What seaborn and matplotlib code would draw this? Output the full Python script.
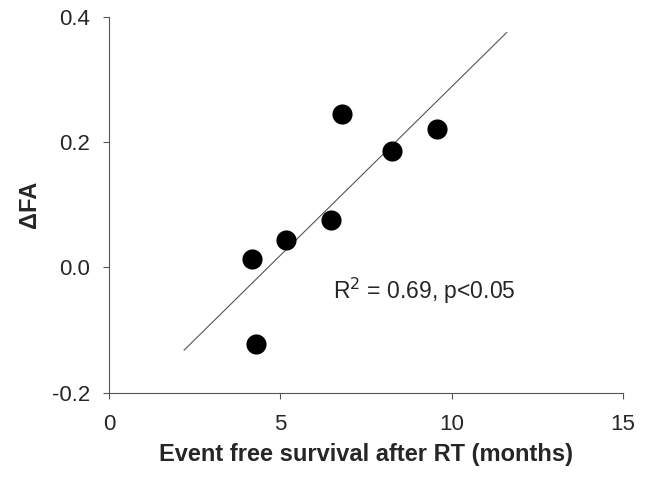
import numpy as np
import pandas as pd
import seaborn as sns
import matplotlib.pyplot as plt

# data
survival = [4.18, 4.29, 5.16, 6.47, 6.79, 8.27, 9.58]
delta_fa = [0.013, -0.123, 0.043, 0.076, 0.244, 0.185, 0.220]
fit_range = [2.19, 11.61]
x_ticks = [0, 5, 10, 15]
y_ticks = [-0.2, 0.0, 0.2, 0.4]

df = pd.DataFrame({"survival": survival, "dfa": delta_fa})

sns.set_style("ticks")
plt.rcParams["font.family"] = ["Liberation Sans", "DejaVu Sans"]

fig = plt.figure(figsize=(6.46, 4.82), dpi=100)
ax = fig.add_axes([0.1687, 0.1853, 0.7957, 0.7801])

# regression line over the drawn range
slope, icpt = np.polyfit(survival, delta_fa, 1)
fit_x = np.array(fit_range)
sns.lineplot(x=fit_x, y=slope * fit_x + icpt, color="#555555", linewidth=0.8, ax=ax)

sns.scatterplot(data=df, x="survival", y="dfa", color="black", s=210,
                edgecolor="black", linewidth=0, ax=ax, zorder=3)

ax.text(6.53, -0.0505, "R$^{2}$ = 0.69, p<0.05", fontsize=16.5, va="baseline")

ax.set_xlim(0, 15)
ax.set_ylim(-0.2, 0.4)
ax.set_xticks(x_ticks)
ax.set_yticks(y_ticks)
ax.set_xticklabels([str(t) for t in x_ticks])
ax.set_yticklabels([f"{t:.1f}" for t in y_ticks])
ax.tick_params(labelsize=16, length=4, width=0.8, color="#555555")
ax.tick_params(axis="x", pad=11)
ax.tick_params(axis="y", pad=9.5)
for s in ["left", "bottom"]:
    ax.spines[s].set_color("#555555")
    ax.spines[s].set_linewidth(0.8)
sns.despine(ax=ax)

ax.set_xlabel("Event free survival after RT (months)", fontsize=17, fontweight="bold", labelpad=6)
ax.set_ylabel("ΔFA", fontsize=17, fontweight="bold", labelpad=8)

fig.savefig("out.png", dpi=100)
